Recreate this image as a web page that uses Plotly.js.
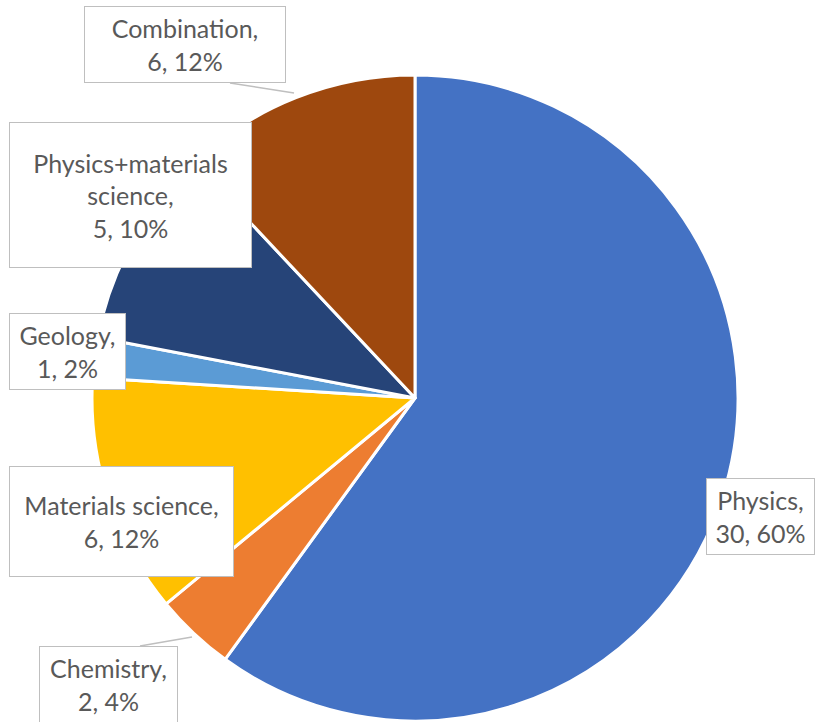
<!DOCTYPE html>
<html>
<head>
<meta charset="utf-8">
<script src="https://cdn.plot.ly/plotly-3.0.1.min.js"></script>
<style>html,body{margin:0;padding:0;background:#fff;}#chart{width:817px;height:722px;}</style>
</head>
<body>
<div id="chart"></div>
<script>
const categories = ["Physics", "Chemistry", "Materials science", "Geology", "Physics+materials science", "Combination"];
const counts = [30, 2, 6, 1, 5, 6];
const labelLines = ["Physics,", "Chemistry,", "Materials science,", "Geology,", "Physics+materials<br>science,", "Combination,"];
const colors = ["#4472C4", "#ED7D31", "#FFC000", "#5B9BD5", "#264478", "#9E480E"];

const W = 817, H = 722;
const total = counts.reduce((a, b) => a + b, 0);

// label box layout in pixels: [centerX, centerY, width, height]
const boxes = [
  [760.5, 516.5, 109, 77],
  [108.5, 684.5, 139, 77],
  [121.5, 521.5, 225, 111],
  [67.5, 351.5, 117, 77],
  [130.5, 195, 243, 146],
  [185, 44.5, 202, 77]
];

const annotations = categories.map((c, i) => {
  const pct = Math.round(counts[i] / total * 100);
  const b = boxes[i];
  return {
    xref: 'paper', yref: 'paper',
    x: b[0] / W, y: 1 - b[1] / H,
    xanchor: 'center', yanchor: 'middle',
    text: labelLines[i] + '<br>' + counts[i] + ', ' + pct + '%',
    showarrow: false,
    width: b[2] - 2, height: b[3] - 2,
    align: 'center', valign: 'middle',
    bgcolor: '#FFFFFF', bordercolor: '#BFBFBF', borderwidth: 1, borderpad: 0,
    font: {family: 'Lato, "Open Sans", sans-serif', size: 25, color: '#595959'}
  };
});

function px(x, y) { return [x / W, 1 - y / H]; }
function leader(x0, y0, x1, y1) {
  const a = px(x0, y0), b = px(x1, y1);
  return {type: 'line', xref: 'paper', yref: 'paper', x0: a[0], y0: a[1], x1: b[0], y1: b[1],
          line: {color: '#BFBFBF', width: 1.5}, layer: 'below'};
}

const data = [{
  type: 'pie',
  labels: categories,
  values: counts,
  sort: false,
  direction: 'clockwise',
  rotation: 0,
  textinfo: 'none',
  hoverinfo: 'label+value+percent',
  marker: {colors: colors, line: {color: '#FFFFFF', width: 3}},
  domain: {x: [92 / W, 738 / W], y: [1 - 721 / H, 1 - 75 / H]},
  showlegend: false
}];

const layout = {
  width: W, height: H,
  margin: {l: 0, r: 0, t: 0, b: 0},
  paper_bgcolor: '#FFFFFF',
  showlegend: false,
  annotations: annotations,
  shapes: [leader(230, 83, 294, 93), leader(140, 646, 192, 637)]
};

Plotly.newPlot('chart', data, layout, {displayModeBar: false, staticPlot: true});
</script>
</body>
</html>
